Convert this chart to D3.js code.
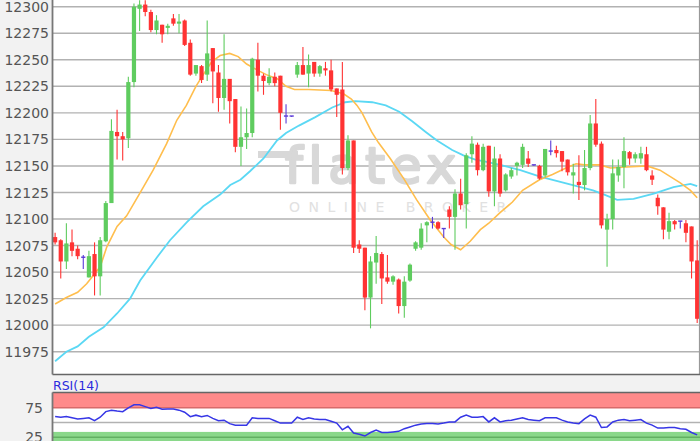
<!DOCTYPE html>
<html>
<head>
<meta charset="utf-8">
<script src="https://cdn.jsdelivr.net/npm/d3@7"></script>
<style>
  body{margin:0;background:#f2f2f2;overflow:hidden;}
  svg{display:block;font-family:'DejaVu Sans',Verdana,sans-serif;}
</style>
</head>
<body>
<div id="chart"></div>
<script>

var opens = [12083,12080,12060,12078,12072,12064,12045,12067,12046,12079,
  12115,12182,12178,12176,12229,12298,12302,12295,12278,12283,
  12280,12289,12284,12287,12266,12237,12244,12236,12261,12238,
  12214,12232,12213,12168,12177,12181,12250,12235,12228,12234,
  12235,12197,12197,12236,12245,12237,12248,12237,12242,12240,
  12223,12222,12148,12174,12076,12073,12026,12059,12067,12045,
  12041,12043,12018,12042,12072,12073,12094,12097,12097,12091,
  12109,12102,12124,12114,12161,12170,12146,12169,12126,12157,
  12127,12140,12150,12151,12157,12151,12150,12141,12164,12165,
  12164,12156,12141,12135,12132,12148,12190,12171,12090,12100,
  12141,12149,12163,12157,12157,12161,12141,12120,12111,12088,
  12098,12098,12096,12093,12061];

var highs = [12087,12081,12096,12090,12075,12066,12070,12078,12083,12117,
  12194,12203,12182,12234,12303,12306,12306,12297,12292,12283,
  12284,12293,12293,12288,12269,12245,12245,12287,12261,12245,
  12274,12232,12213,12206,12204,12252,12266,12237,12242,12238,
  12235,12208,12197,12248,12262,12255,12248,12245,12248,12250,
  12223,12248,12179,12174,12080,12073,12065,12084,12069,12066,
  12047,12044,12046,12058,12079,12096,12098,12102,12098,12091,
  12112,12128,12138,12162,12178,12172,12171,12169,12168,12161,
  12143,12148,12154,12171,12164,12151,12151,12166,12174,12169,
  12164,12156,12152,12160,12165,12198,12213,12173,12105,12156,
  12156,12177,12164,12163,12168,12168,12146,12123,12111,12106,
  12099,12098,12099,12093,12080];

var lows = [12076,12044,12053,12065,12062,12053,12045,12028,12028,12078,
  12115,12156,12155,12167,12224,12277,12291,12276,12274,12266,
  12274,12282,12275,12263,12235,12235,12228,12230,12209,12201,
  12203,12190,12163,12150,12166,12177,12220,12217,12226,12225,
  12184,12190,12197,12233,12236,12224,12234,12234,12235,12220,
  12196,12142,12146,12068,12068,12014,11997,12039,12020,12039,
  12038,12011,12007,12041,12070,12071,12078,12091,12090,12082,
  12091,12071,12109,12091,12153,12141,12145,12121,12112,12121,
  12126,12138,12141,12148,12149,12151,12137,12139,12160,12158,
  12145,12141,12124,12118,12127,12146,12168,12091,12055,12090,
  12135,12129,12151,12153,12152,12145,12132,12104,12081,12081,
  12090,12091,12078,12044,12002];

var closes = [12078,12060,12077,12070,12065,12064,12065,12046,12080,12115,
  12183,12178,12175,12229,12300,12302,12295,12278,12287,12274,
  12282,12284,12286,12264,12236,12245,12231,12256,12239,12214,
  12232,12211,12168,12177,12181,12251,12235,12230,12234,12228,
  12200,12197,12197,12245,12236,12245,12237,12244,12240,12222,
  12217,12148,12174,12073,12072,12026,12060,12068,12044,12041,
  12046,12018,12041,12057,12078,12091,12097,12097,12091,12091,
  12102,12124,12113,12160,12171,12146,12168,12126,12157,12124,
  12142,12146,12153,12168,12152,12151,12138,12166,12164,12162,
  12154,12144,12144,12132,12148,12190,12170,12094,12100,12143,
  12149,12164,12157,12161,12162,12146,12137,12112,12090,12098,
  12095,12098,12087,12060,12006];

// moving averages at these bar positions
var maFastAt = [0,2,4,5.6,8,9.2,11,12.7,15,17.4,19.8,21.6,23.3,25,26.3,27.8,29.3,31,32.5,34,
  36,37.5,39.5,41,42.5,45,49,51.2,52.6,53.6,54.5,56.2,57.4,59.5,61.9,64.2,66.6,69,70.3,72,
  73.7,75.5,77,79,81.2,83,86,88.3,90.7,92.5,94,96.7,98.6,101.5,105.1,107.4,109.8,111,112.8,114];
var maFast = [12020,12026,12031,12039,12055,12074,12093,12103,12124,12146,12171,12193,12207,12225,12236,12248,12254,12256,12253,12246,
  12240,12236,12232,12225,12222,12222,12221,12218,12213,12207,12200,12182,12172,12157,12138,12118,12099,12083,12076,12071,
  12079,12090,12096,12106,12116,12127,12137,12142,12148,12152,12151,12151,12148,12149,12150,12146,12138,12134,12127,12120];

var maSlowAt = [0,2,4,6,8.6,11,13.3,15.1,18.1,20.4,23.4,26.3,29.3,31.1,32.9,34.6,37,39.4,41,43.3,
  46.2,49.2,51.5,53.3,56.3,58.7,61.1,63.4,65.8,67.8,70.5,72.5,74.6,76.4,79,81.2,82.6,86.1,89.7,93.3,
  95.5,97.5,99.8,102.7,106.3,109.8,112.8,114];
var maSlow = [11966,11975,11980,11989,11998,12011,12025,12042,12064,12080,12097,12112,12123,12132,12137,12145,12157,12174,12181,12188,
  12196,12205,12210,12211,12210,12207,12201,12192,12182,12174,12165,12160,12156,12154,12151,12148,12146,12140,12135,12130,
  12127,12123,12118,12119,12124,12130,12133,12131];

var rsi = [60,59,60,58,56,57,58,53,59,68.5,
  71,69.5,68.5,75,80,80,77,74,76,72.5,
  73,73,71,67.5,60,62.5,60,62,57,53,
  54,48,45.5,45.5,45.5,58,57,57,57,53,
  49,49,49,59,55,58,56,55,55,52,
  49,37.5,43.5,32,30,27,33,37,33,33,
  34,35,39.5,42.5,45.5,47.5,48.5,48.5,47.5,49,
  51,51,59,62.5,59,59,60,51,58,51,
  53,54,56,58,55,54,53,58,58,58,
  54,51,49,48,56,62.5,59,41.5,42.5,51,
  54,55,53,54,55,49,45.5,40.5,40.5,41.5,
  41.5,39.5,38.5,33,29];

var priceTicks = [11975,12000,12025,12050,12075,12100,12125,12150,12175,12200,12225,12250,12275,12300];
var rsiLabels = [75, 25];

var width = 700,
    height = 441;

var n = opens.length;

var svg = d3.select('#chart').append('svg')
  .attr('width', width)
  .attr('height', height);

var left = 52.5,
    right = 699.5,
    priceBottom = 374.5,
    rsiTop = 392.5;

var x = d3.scaleLinear()
  .domain([-0.5, n - 0.5])
  .range([52.3, 700]);

var y = d3.scaleLinear()
  .domain([11954, 12306.3])
  .range([374, 0]);

var yr = d3.scaleLinear()
  .domain([0, 100])
  .range([451.9, 393.1]);

// price pane
svg.append('rect')
  .attr('x', left).attr('y', 0)
  .attr('width', right - left).attr('height', priceBottom)
  .attr('fill', '#fff');

svg.append('g')
  .selectAll('.grid')
  .data(priceTicks)
  .enter().append('line')
  .attr('class', 'grid')
  .attr('x1', left).attr('x2', right)
  .attr('y1', function(d){return y(d)})
  .attr('y2', function(d){return y(d)})
  .attr('stroke', '#b2b2b2')
  .attr('stroke-width', 1.4);

svg.append('g')
  .selectAll('.ylab')
  .data(priceTicks)
  .enter().append('text')
  .attr('class', 'ylab')
  .attr('x', 49)
  .attr('y', function(d){return y(d)})
  .attr('dy', '0.36em')
  .attr('text-anchor', 'end')
  .attr('font-size', 14)
  .attr('fill', '#555')
  .text(function(d){return d});

// watermark
var wm = svg.append('g').attr('fill', '#d8d8d8');
wm.append('rect')
  .attr('x', 258).attr('y', 151)
  .attr('width', 40).attr('height', 7);
wm.append('text')
  .attr('x', 285).attr('y', 183)
  .attr('font-size', 50)
  .attr('letter-spacing', 6)
  .attr('stroke', '#d8d8d8')
  .attr('stroke-width', 2.6)
  .attr('stroke-linejoin', 'round')
  .text('flatex');
wm.append('text')
  .attr('x', 289).attr('y', 212)
  .attr('font-size', 14)
  .attr('letter-spacing', 8.5)
  .attr('fill', '#e1e1e1')
  .text('ONLINE BROKER');

// moving averages
var maLine = d3.line()
  .x(function(d){return x(d[0])})
  .y(function(d){return y(d[1])});

svg.append('path')
  .attr('d', maLine(d3.zip(maSlowAt, maSlow)))
  .attr('fill', 'none')
  .attr('stroke', '#5bd8f4')
  .attr('stroke-width', 1.8);

svg.append('path')
  .attr('d', maLine(d3.zip(maFastAt, maFast)))
  .attr('fill', 'none')
  .attr('stroke', '#ffbe4d')
  .attr('stroke-width', 1.6);

// candles
var candles = d3.range(n).map(function(i){
  return {i: i, o: opens[i], h: highs[i], l: lows[i], c: closes[i]};
});

function candleColor(d){
  if(d.c > d.o) return '#5fcc5f';
  if(d.c < d.o) return '#ff3333';
  return '#5a3ad8';
}

var cg = svg.append('g')
  .selectAll('.candle')
  .data(candles)
  .enter().append('g')
  .attr('class', 'candle');

cg.append('line')
  .attr('x1', function(d){return x(d.i)})
  .attr('x2', function(d){return x(d.i)})
  .attr('y1', function(d){return y(d.h)})
  .attr('y2', function(d){return Math.max(y(d.l), y(d.h) + 1)})
  .attr('stroke', candleColor)
  .attr('stroke-width', 1.1);

cg.append('rect')
  .attr('x', function(d){return x(d.i) - 2.1})
  .attr('width', 4.2)
  .attr('y', function(d){return y(Math.max(d.o, d.c)) - (d.o == d.c ? 0.7 : 0)})
  .attr('height', function(d){
    return Math.max(1.4, y(Math.min(d.o, d.c)) - y(Math.max(d.o, d.c)));
  })
  .attr('fill', candleColor);

// frame
svg.append('line')
  .attr('x1', right).attr('x2', right)
  .attr('y1', 0).attr('y2', priceBottom)
  .attr('stroke', '#999').attr('stroke-width', 1.2);
svg.append('line')
  .attr('x1', left).attr('x2', right + 0.5)
  .attr('y1', priceBottom).attr('y2', priceBottom)
  .attr('stroke', '#666').attr('stroke-width', 1.6);
svg.append('line')
  .attr('x1', left).attr('x2', left)
  .attr('y1', 0).attr('y2', priceBottom)
  .attr('stroke', '#777').attr('stroke-width', 1.8);

// RSI pane
svg.append('rect')
  .attr('x', left).attr('y', rsiTop)
  .attr('width', right - left + 1).attr('height', height - rsiTop)
  .attr('fill', '#fff');

svg.append('rect')
  .attr('x', left).attr('y', rsiTop)
  .attr('width', right - left + 1).attr('height', yr(75) - rsiTop)
  .attr('fill', '#ff8a8a');

svg.append('rect')
  .attr('x', left).attr('y', yr(34))
  .attr('width', right - left + 1).attr('height', height - yr(34))
  .attr('fill', '#8ad88a');

svg.append('line')
  .attr('x1', left).attr('x2', right + 0.5)
  .attr('y1', yr(75)).attr('y2', yr(75))
  .attr('stroke', '#d86a6a').attr('stroke-width', 1.4);
svg.append('line')
  .attr('x1', left).attr('x2', right + 0.5)
  .attr('y1', yr(50)).attr('y2', yr(50))
  .attr('stroke', '#b2b2b2').attr('stroke-width', 1.4);
svg.append('line')
  .attr('x1', left).attr('x2', right + 0.5)
  .attr('y1', yr(25)).attr('y2', yr(25))
  .attr('stroke', '#62b062').attr('stroke-width', 1.4);

var rsiLine = d3.line()
  .x(function(d, i){return x(i)})
  .y(function(d){return yr(d)});

svg.append('path')
  .attr('d', rsiLine(rsi))
  .attr('fill', 'none')
  .attr('stroke', '#3636e6')
  .attr('stroke-width', 1.5);

svg.append('line')
  .attr('x1', left).attr('x2', right + 0.5)
  .attr('y1', rsiTop).attr('y2', rsiTop)
  .attr('stroke', '#666').attr('stroke-width', 1.6);
svg.append('line')
  .attr('x1', left).attr('x2', left)
  .attr('y1', rsiTop).attr('y2', height)
  .attr('stroke', '#777').attr('stroke-width', 1.8);

svg.append('g')
  .selectAll('.rlab')
  .data(rsiLabels)
  .enter().append('text')
  .attr('class', 'rlab')
  .attr('x', 43)
  .attr('y', function(d){return yr(d)})
  .attr('dy', '0.36em')
  .attr('text-anchor', 'end')
  .attr('font-size', 14)
  .attr('fill', '#555')
  .text(function(d){return d});

svg.append('text')
  .attr('x', 53)
  .attr('y', 390)
  .attr('font-size', 12.5)
  .attr('fill', '#2b2bdd')
  .text('RSI(14)');

</script>
</body>
</html>
